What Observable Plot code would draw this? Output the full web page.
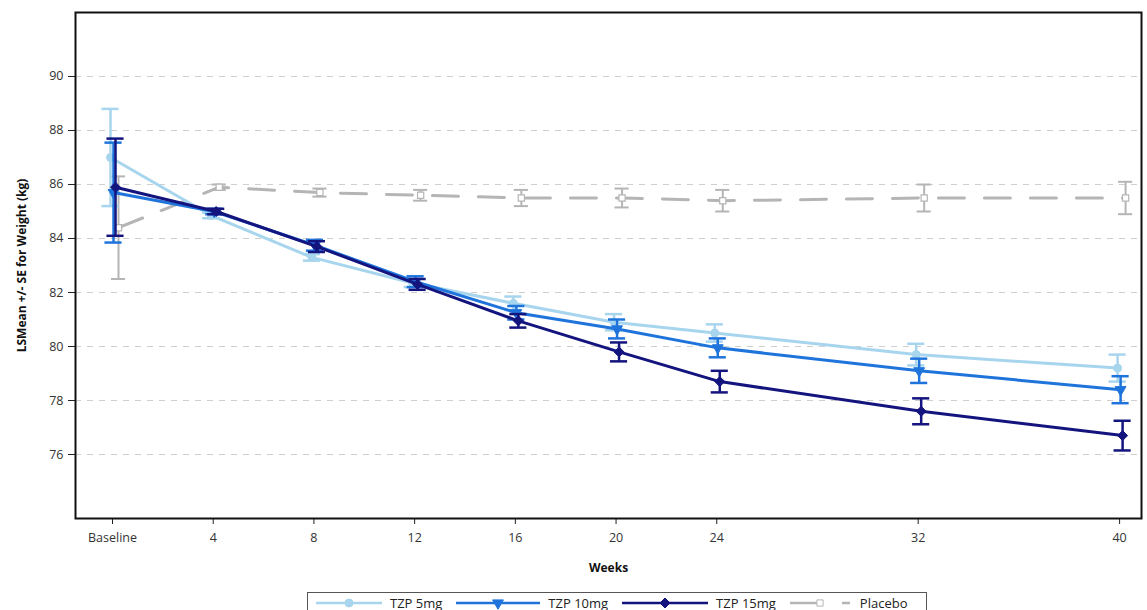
<!DOCTYPE html>
<html>
<head>
<meta charset="utf-8">
<script src="https://cdn.jsdelivr.net/npm/d3@7"></script>
<script src="https://cdn.jsdelivr.net/npm/@observablehq/plot@0.6"></script>
<style>
  html, body { margin: 0; padding: 0; background: #fff; }
  body { font-family: "Open Sans", sans-serif; width: 1147px; height: 610px; overflow: hidden; position: relative; }
  #chart svg { display: block; }
  g[aria-label="y-axis label"] text, g[aria-label="x-axis label"] text { font-weight: bold; fill: #111; font-size: 12px; }
  #legend {
    position: absolute; left: 307px; top: 592px; width: 620px; height: 22px;
    border: 1px solid #555; box-sizing: border-box; background: #fff;
    display: flex; align-items: center; font-size: 13px; color: #222;
  }
  #legend .item { display: flex; align-items: center; margin-left: 8px; }
  #legend .item span { margin-left: 8px; margin-right: 6px; }
</style>
</head>
<body>
<div id="chart"></div>
<div id="legend"></div>
<script>
// ---- data ----
const weeks = [0, 4, 8, 12, 16, 20, 24, 32, 40];
const weekLabels = ["Baseline", "4", "8", "12", "16", "20", "24", "32", "40"];
const yTicks = [76, 78, 80, 82, 84, 86, 88, 90];
const seriesNames = ["TZP 5mg", "TZP 10mg", "TZP 15mg", "Placebo"];

const tzp5Mean  = [87.0, 84.85, 83.3, 82.35, 81.6, 80.9, 80.5, 79.7, 79.2];
const tzp5SE    = [1.8, 0.1, 0.12, 0.15, 0.25, 0.3, 0.32, 0.4, 0.5];
const tzp10Mean = [85.7, 85.0, 83.75, 82.4, 81.25, 80.65, 79.95, 79.1, 78.4];
const tzp10SE   = [1.85, 0.1, 0.2, 0.2, 0.25, 0.35, 0.35, 0.45, 0.5];
const tzp15Mean = [85.9, 85.0, 83.7, 82.3, 80.95, 79.8, 78.7, 77.6, 76.7];
const tzp15SE   = [1.8, 0.1, 0.2, 0.2, 0.25, 0.35, 0.4, 0.48, 0.55];
const placeboMean = [84.4, 85.9, 85.7, 85.6, 85.5, 85.5, 85.4, 85.5, 85.5];
const placeboSE   = [1.9, 0.1, 0.15, 0.2, 0.3, 0.35, 0.4, 0.5, 0.6];

// ---- styles ----
const styles = {
  "TZP 5mg":  {color: "#a8d5ee", dx: -2, symbol: "circle",   r: 4,   rotate: 0,   fill: true,  dash: null, width: 3},
  "TZP 10mg": {color: "#1f74dc", dx: 1,  symbol: "triangle", r: 4,   rotate: 180, fill: true,  dash: null, width: 3},
  "TZP 15mg": {color: "#14147f", dx: 3,  symbol: "diamond2", r: 4.5, rotate: 0,   fill: true,  dash: null, width: 3},
  "Placebo":  {color: "#b5b5b5", dx: 6,  symbol: "square",   r: 3.5, rotate: 0,   fill: false, dash: "26,20", width: 3}
};

const seriesData = {
  "TZP 5mg":  weeks.map((w, i) => ({week: w, mean: tzp5Mean[i], se: tzp5SE[i]})),
  "TZP 10mg": weeks.map((w, i) => ({week: w, mean: tzp10Mean[i], se: tzp10SE[i]})),
  "TZP 15mg": weeks.map((w, i) => ({week: w, mean: tzp15Mean[i], se: tzp15SE[i]})),
  "Placebo":  weeks.map((w, i) => ({week: w, mean: placeboMean[i], se: placeboSE[i]}))
};

const drawOrder = ["Placebo", "TZP 5mg", "TZP 10mg", "TZP 15mg"];
const capHalf = 0.34;

const seriesMarks = drawOrder.flatMap(name => {
  const s = styles[name];
  const data = seriesData[name];
  const lw = name === "Placebo" ? 2 : 2.5;
  const cap = name === "Placebo" ? 0.28 : capHalf;
  return [
    Plot.line(data, {x: "week", y: "mean", dx: s.dx, stroke: s.color, strokeWidth: s.width,
      strokeDasharray: s.dash ?? undefined, curve: "linear"}),
    Plot.ruleX(data, {x: "week", y1: d => d.mean - d.se, y2: d => d.mean + d.se, dx: s.dx, stroke: s.color, strokeWidth: lw}),
    Plot.ruleY(data, {y: d => d.mean + d.se, x1: d => d.week - cap, x2: d => d.week + cap, dx: s.dx, stroke: s.color, strokeWidth: lw}),
    Plot.ruleY(data, {y: d => d.mean - d.se, x1: d => d.week - cap, x2: d => d.week + cap, dx: s.dx, stroke: s.color, strokeWidth: lw}),
    Plot.dot(data, {x: "week", y: "mean", dx: s.dx, symbol: s.symbol, r: s.r, rotate: s.rotate,
      fill: s.fill ? s.color : "white", stroke: s.color, strokeWidth: s.fill ? 1 : 1.2})
  ];
});

const chart = Plot.plot({
  width: 1147,
  height: 580,
  marginLeft: 75,
  marginRight: 6,
  marginTop: 12,
  marginBottom: 62,
  style: {fontFamily: "Open Sans, sans-serif", fontSize: "12px", color: "#333", background: "white"},
  x: {domain: [-1.47, 40.87]},
  y: {domain: [73.63, 92.37]},
  marks: [
    Plot.gridY(yTicks, {stroke: "#cfcfcf", strokeOpacity: 1, strokeWidth: 1, strokeDasharray: "6,6"}),
    Plot.axisY(yTicks, {tickSize: 7, tickPadding: 5, stroke: "#222", fontSize: 12.5,
      label: "LSMean +/- SE for Weight (kg)", labelAnchor: "center", labelArrow: "none", labelOffset: 58}),
    Plot.axisX(weeks, {tickSize: 6, tickPadding: 9, stroke: "#222", fontSize: 12.5,
      tickFormat: d => weekLabels[weeks.indexOf(d)],
      label: "Weeks", labelAnchor: "center", labelArrow: "none", labelOffset: 53}),
    ...seriesMarks,
    Plot.frame({stroke: "#111", strokeWidth: 2})
  ]
});
document.getElementById("chart").appendChild(chart);

// ---- legend ----
const legend = d3.select("#legend");
const symbolPaths = {circle: d3.symbolCircle, triangle: d3.symbolTriangle, diamond2: d3.symbolDiamond2, square: d3.symbolSquare};
const swatchWidths = {"TZP 5mg": 66, "TZP 10mg": 84, "TZP 15mg": 86, "Placebo": 62};
seriesNames.forEach(name => {
  const s = styles[name];
  const w = swatchWidths[name];
  const item = legend.append("div").attr("class", "item");
  const svg = item.append("svg").attr("width", w).attr("height", 14);
  if (name === "Placebo") {
    svg.append("line").attr("x1", 0).attr("x2", 30).attr("y1", 7).attr("y2", 7)
      .attr("stroke", s.color).attr("stroke-width", 2.5);
    svg.append("line").attr("x1", 52).attr("x2", 60).attr("y1", 7).attr("y2", 7)
      .attr("stroke", s.color).attr("stroke-width", 2.5);
  } else {
    svg.append("line").attr("x1", 0).attr("x2", w).attr("y1", 7).attr("y2", 7)
      .attr("stroke", s.color).attr("stroke-width", 2.5);
  }
  const cx = name === "Placebo" ? 30 : w / 2;
  const area = Math.PI * s.r * s.r;
  svg.append("path")
    .attr("d", d3.symbol(symbolPaths[s.symbol], area)())
    .attr("transform", `translate(${cx},7) rotate(${s.rotate})`)
    .attr("fill", s.fill ? s.color : "white")
    .attr("stroke", s.color);
  item.append("span").text(name);
});
</script>
</body>
</html>
